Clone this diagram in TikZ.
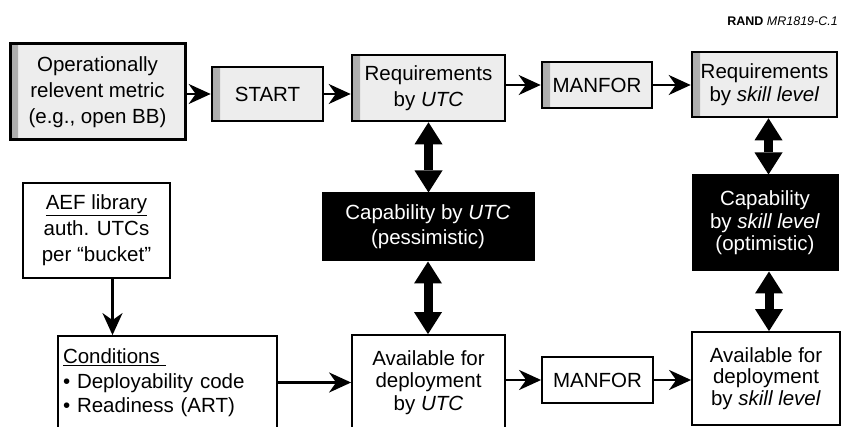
\documentclass[tikz,border=0pt]{standalone}
\usepackage{fontspec}
\setmainfont{Liberation Sans}
\usetikzlibrary{arrows.meta}

\begin{document}
\begin{tikzpicture}[x=1pt,y=-1pt,
  box/.style={draw=black, inner sep=0pt, align=center,
    font=\fontsize{20.5}{24}\selectfont},
  greybox/.style={box, line width=2.6pt, fill=gray!14,
    path picture={\shade[left color=gray!65, right color=gray!14]
      (path picture bounding box.north west) rectangle
      ([xshift=8pt]path picture bounding box.south west);}},
  whitebox/.style={box, line width=1.8pt, fill=white},
  darkbox/.style={box, fill=black, text=white, line width=1pt},
  flow/.style={line width=2.6pt,
    -{Stealth[length=22pt 0, width=20pt 0, inset=7pt 0]}},
  twoway/.style={line width=9pt,
    {Triangle[length=22pt, width=28pt, line width=0pt]}-{Triangle[length=22pt, width=28pt, line width=0pt]}},
]
\useasboundingbox (0,0) rectangle (843,427);
\clip (0,0) rectangle (843,427);

% figure tag
\node[anchor=base east, inner sep=0pt, font=\fontsize{12.5}{14}\selectfont]
  (tag) at (838,26) {\textbf{RAND} \textit{MR1819-C.1}};

% top row
\node[greybox, line width=3pt, minimum width=175pt, minimum height=96pt,
  font=\fontsize{20.5}{26}\selectfont]
  (metric) at (97.5,92) {Operationally\\relevent metric\\(e.g., open BB)};
\node[greybox, minimum width=111pt, minimum height=54pt]
  (start) at (267.5,94) {START};
\node[greybox, minimum width=153pt, minimum height=66pt,
  font=\fontsize{20.5}{26}\selectfont]
  (requtc) at (428.5,88) {Requirements\\by \textit{UTC}};
\node[greybox, minimum width=110pt, minimum height=46pt]
  (manfortop) at (597,85) {MANFOR};
\node[greybox, minimum width=145pt, minimum height=65pt,
  font=\fontsize{20.5}{23}\selectfont]
  (reqskill) at (764.5,84.5) {Requirements\\by \textit{skill level}};

% capability boxes
\node[darkbox, minimum width=212pt, minimum height=68pt,
  font=\fontsize{20.5}{25}\selectfont]
  (caputc) at (428,227) {Capability by \textit{UTC}\\(pessimistic)};
\node[darkbox, minimum width=146pt, minimum height=96pt,
  font=\fontsize{20.5}{22.5}\selectfont]
  (capskill) at (765,223) {Capability\\by \textit{skill level}\\(optimistic)};

% left column
\node[whitebox, minimum width=147pt, minimum height=95pt,
  font=\fontsize{20.5}{26}\selectfont]
  (aef) at (96.5,230.5) {\underline{AEF library}\\auth. UTCs\\per “bucket”};
\node[whitebox, inner xsep=5pt, text width=209pt, align=left,
  minimum height=94pt, font=\fontsize{20.5}{24.5}\selectfont]
  (cond) at (167.5,383) {\underline{Conditions\hspace{6pt}}\\• Deployability code\\• Readiness (ART)};

% bottom row
\node[whitebox, minimum width=153pt, minimum height=95pt,
  font=\fontsize{20.5}{22.5}\selectfont]
  (avutc) at (428.5,382.5) {Available for\\deployment\\by \textit{UTC}};
\node[whitebox, minimum width=111pt, minimum height=46pt]
  (manforlow) at (597.5,380) {MANFOR};
\node[whitebox, minimum width=148pt, minimum height=93pt,
  font=\fontsize{20.5}{21.5}\selectfont]
  (avskill) at (766,378.5) {Available for\\deployment\\by \textit{skill level}};

% flow arrows
\draw[flow] (start.west -| metric.east) -- (start.west);
\draw[flow] (start.east) -- (start.east -| requtc.west);
\draw[flow] (manfortop.west -| requtc.east) -- (manfortop.west);
\draw[flow] (manfortop.east) -- (manfortop.east -| reqskill.west);
\draw[flow] ([xshift=16pt]aef.south) -- ([xshift=16pt]aef.south |- cond.north);
\draw[flow] (cond.east |- avutc.west) -- (avutc.west);
\draw[flow] (manforlow.west -| avutc.east) -- (manforlow.west);
\draw[flow] (manforlow.east) -- (manforlow.east -| avskill.west);

% two-way links
\draw[twoway] (requtc.south) -- (requtc.south |- caputc.north);
\draw[twoway] (caputc.south) -- (caputc.south |- avutc.north);
\draw[twoway] ([xshift=4pt]reqskill.south) -- ([xshift=4pt]reqskill.south |- capskill.north);
\draw[twoway] ([xshift=4pt]capskill.south) -- ([xshift=4pt]capskill.south |- avskill.north);
\end{tikzpicture}
\end{document}
